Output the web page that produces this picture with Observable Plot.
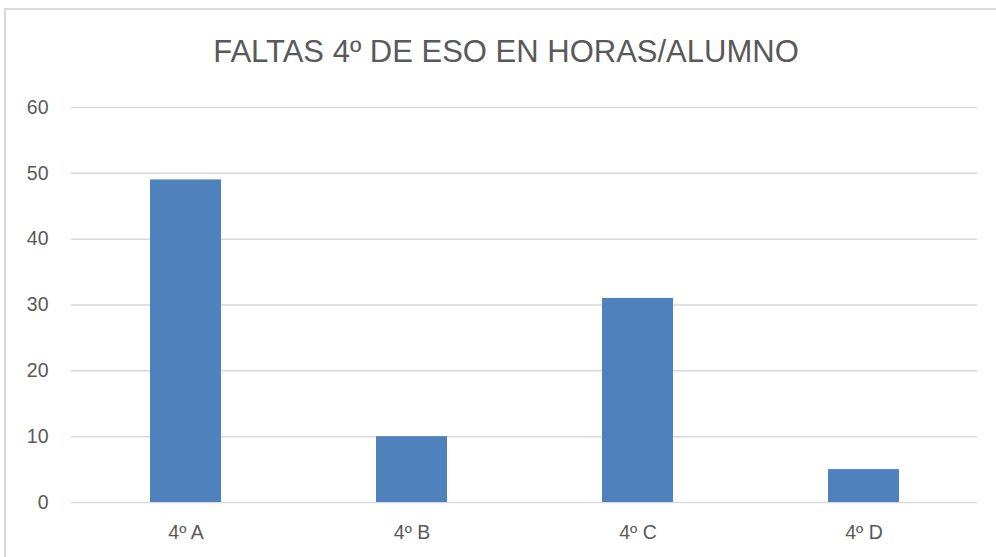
<!DOCTYPE html>
<html>
<head>
<meta charset="utf-8">
<script src="https://cdn.jsdelivr.net/npm/d3@7"></script>
<script src="https://cdn.jsdelivr.net/npm/@observablehq/plot@0.6"></script>
<style>
  html, body { margin: 0; padding: 0; background: #fff; }
  #wrap { position: relative; width: 996px; height: 557px; overflow: hidden; font-family: "Liberation Sans", "DejaVu Sans", sans-serif; }
  #frame { position: absolute; left: 4px; top: 8px; width: 1200px; height: 1200px; border-left: 2px solid #d9d9d9; border-top: 2px solid #d9d9d9; box-sizing: border-box; }
  #title { position: absolute; left: 0; top: 0; width: 1012px; height: 90px; text-align: center; line-height: 104px; font-size: 31px; color: #595959; }
  #chart { position: absolute; left: 0; top: 90px; }
</style>
</head>
<body>
<div id="wrap">
  <div id="frame"></div>
  <div id="title">FALTAS 4º DE ESO EN HORAS/ALUMNO</div>
  <div id="chart"></div>
</div>
<script>
const categories = ["4º A", "4º B", "4º C", "4º D"];
const values = [49, 10, 31, 5];
const yTicks = [0, 10, 20, 30, 40, 50, 60];

const data = categories.map((c, i) => ({grupo: c, horas: values[i]}));

const chart = Plot.plot({
  width: 996,
  height: 467,
  marginLeft: 71,
  marginRight: 19,
  marginTop: 17,
  marginBottom: 55,
  style: { fontFamily: "Liberation Sans, DejaVu Sans, sans-serif", fontSize: "19.5px", color: "#595959", background: "transparent" },
  x: { domain: categories, paddingInner: 0.686, paddingOuter: 0.343, label: null },
  y: { domain: [0, 60], ticks: yTicks, label: null },
  marks: [
    Plot.gridY(yTicks, { stroke: "#d9d9d9", strokeOpacity: 1, strokeWidth: 1.5 }),
    Plot.barY(data, { x: "grupo", y: "horas", fill: "#4f81bd" }),
    Plot.axisY(yTicks, { tickSize: 0, tickPadding: 23, fill: "#595959", fontSize: 19.5, label: null }),
    Plot.axisX({ tickSize: 0, tickPadding: 23, fill: "#595959", fontSize: 19.5, label: null })
  ]
});
document.getElementById("chart").appendChild(chart);
</script>
</body>
</html>
